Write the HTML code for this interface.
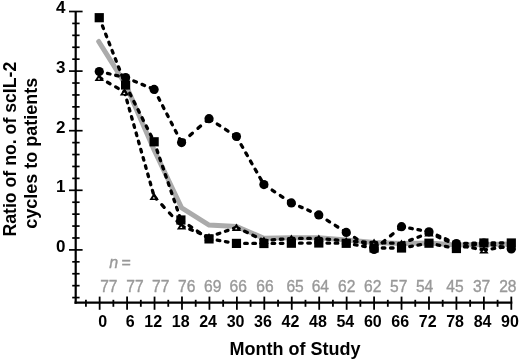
<!DOCTYPE html>
<html><head><meta charset="utf-8"><style>
html,body{margin:0;padding:0;background:#fff;}
body{width:520px;height:359px;overflow:hidden;}
svg{display:block;will-change:transform;}
text{font-family:"Liberation Sans",sans-serif;}
.b{font-weight:bold;fill:#000;}
.g{fill:#999;stroke:#999;stroke-width:0.35px;}
</style></head><body>
<svg width="520" height="359" viewBox="0 0 520 359">
<rect width="520" height="359" fill="#fff"/>
<line x1="75.7" y1="11.0" x2="75.7" y2="303.7" stroke="#000" stroke-width="2.2"/>
<line x1="74.5" y1="302.7" x2="512.3" y2="302.7" stroke="#000" stroke-width="2.2"/>
<line x1="69" y1="11.50" x2="82.6" y2="11.50" stroke="#000" stroke-width="1.7"/>
<line x1="72.2" y1="23.42" x2="79.6" y2="23.42" stroke="#000" stroke-width="1.7"/>
<line x1="72.2" y1="35.34" x2="79.6" y2="35.34" stroke="#000" stroke-width="1.7"/>
<line x1="72.2" y1="47.26" x2="79.6" y2="47.26" stroke="#000" stroke-width="1.7"/>
<line x1="72.2" y1="59.18" x2="79.6" y2="59.18" stroke="#000" stroke-width="1.7"/>
<line x1="69" y1="71.10" x2="82.6" y2="71.10" stroke="#000" stroke-width="1.7"/>
<line x1="72.2" y1="83.02" x2="79.6" y2="83.02" stroke="#000" stroke-width="1.7"/>
<line x1="72.2" y1="94.94" x2="79.6" y2="94.94" stroke="#000" stroke-width="1.7"/>
<line x1="72.2" y1="106.86" x2="79.6" y2="106.86" stroke="#000" stroke-width="1.7"/>
<line x1="72.2" y1="118.78" x2="79.6" y2="118.78" stroke="#000" stroke-width="1.7"/>
<line x1="69" y1="130.70" x2="82.6" y2="130.70" stroke="#000" stroke-width="1.7"/>
<line x1="72.2" y1="142.62" x2="79.6" y2="142.62" stroke="#000" stroke-width="1.7"/>
<line x1="72.2" y1="154.54" x2="79.6" y2="154.54" stroke="#000" stroke-width="1.7"/>
<line x1="72.2" y1="166.46" x2="79.6" y2="166.46" stroke="#000" stroke-width="1.7"/>
<line x1="72.2" y1="178.38" x2="79.6" y2="178.38" stroke="#000" stroke-width="1.7"/>
<line x1="69" y1="190.30" x2="82.6" y2="190.30" stroke="#000" stroke-width="1.7"/>
<line x1="72.2" y1="202.22" x2="79.6" y2="202.22" stroke="#000" stroke-width="1.7"/>
<line x1="72.2" y1="214.14" x2="79.6" y2="214.14" stroke="#000" stroke-width="1.7"/>
<line x1="72.2" y1="226.06" x2="79.6" y2="226.06" stroke="#000" stroke-width="1.7"/>
<line x1="72.2" y1="237.98" x2="79.6" y2="237.98" stroke="#000" stroke-width="1.7"/>
<line x1="69" y1="249.90" x2="82.6" y2="249.90" stroke="#000" stroke-width="1.7"/>
<line x1="72.2" y1="261.82" x2="79.6" y2="261.82" stroke="#000" stroke-width="1.7"/>
<line x1="72.2" y1="273.74" x2="79.6" y2="273.74" stroke="#000" stroke-width="1.7"/>
<line x1="72.2" y1="285.66" x2="79.6" y2="285.66" stroke="#000" stroke-width="1.7"/>
<line x1="72.2" y1="297.58" x2="79.6" y2="297.58" stroke="#000" stroke-width="1.7"/>
<line x1="85.93" y1="299.8" x2="85.93" y2="306.8" stroke="#000" stroke-width="1.8"/>
<line x1="99.65" y1="296.6" x2="99.65" y2="309.8" stroke="#000" stroke-width="1.8"/>
<line x1="113.37" y1="299.8" x2="113.37" y2="306.8" stroke="#000" stroke-width="1.8"/>
<line x1="127.09" y1="296.6" x2="127.09" y2="309.8" stroke="#000" stroke-width="1.8"/>
<line x1="140.82" y1="299.8" x2="140.82" y2="306.8" stroke="#000" stroke-width="1.8"/>
<line x1="154.54" y1="296.6" x2="154.54" y2="309.8" stroke="#000" stroke-width="1.8"/>
<line x1="168.26" y1="299.8" x2="168.26" y2="306.8" stroke="#000" stroke-width="1.8"/>
<line x1="181.98" y1="296.6" x2="181.98" y2="309.8" stroke="#000" stroke-width="1.8"/>
<line x1="195.70" y1="299.8" x2="195.70" y2="306.8" stroke="#000" stroke-width="1.8"/>
<line x1="209.43" y1="296.6" x2="209.43" y2="309.8" stroke="#000" stroke-width="1.8"/>
<line x1="223.15" y1="299.8" x2="223.15" y2="306.8" stroke="#000" stroke-width="1.8"/>
<line x1="236.87" y1="296.6" x2="236.87" y2="309.8" stroke="#000" stroke-width="1.8"/>
<line x1="250.59" y1="299.8" x2="250.59" y2="306.8" stroke="#000" stroke-width="1.8"/>
<line x1="264.31" y1="296.6" x2="264.31" y2="309.8" stroke="#000" stroke-width="1.8"/>
<line x1="278.04" y1="299.8" x2="278.04" y2="306.8" stroke="#000" stroke-width="1.8"/>
<line x1="291.76" y1="296.6" x2="291.76" y2="309.8" stroke="#000" stroke-width="1.8"/>
<line x1="305.48" y1="299.8" x2="305.48" y2="306.8" stroke="#000" stroke-width="1.8"/>
<line x1="319.20" y1="296.6" x2="319.20" y2="309.8" stroke="#000" stroke-width="1.8"/>
<line x1="332.92" y1="299.8" x2="332.92" y2="306.8" stroke="#000" stroke-width="1.8"/>
<line x1="346.65" y1="296.6" x2="346.65" y2="309.8" stroke="#000" stroke-width="1.8"/>
<line x1="360.37" y1="299.8" x2="360.37" y2="306.8" stroke="#000" stroke-width="1.8"/>
<line x1="374.09" y1="296.6" x2="374.09" y2="309.8" stroke="#000" stroke-width="1.8"/>
<line x1="387.81" y1="299.8" x2="387.81" y2="306.8" stroke="#000" stroke-width="1.8"/>
<line x1="401.53" y1="296.6" x2="401.53" y2="309.8" stroke="#000" stroke-width="1.8"/>
<line x1="415.26" y1="299.8" x2="415.26" y2="306.8" stroke="#000" stroke-width="1.8"/>
<line x1="428.98" y1="296.6" x2="428.98" y2="309.8" stroke="#000" stroke-width="1.8"/>
<line x1="442.70" y1="299.8" x2="442.70" y2="306.8" stroke="#000" stroke-width="1.8"/>
<line x1="456.42" y1="296.6" x2="456.42" y2="309.8" stroke="#000" stroke-width="1.8"/>
<line x1="470.14" y1="299.8" x2="470.14" y2="306.8" stroke="#000" stroke-width="1.8"/>
<line x1="483.87" y1="296.6" x2="483.87" y2="309.8" stroke="#000" stroke-width="1.8"/>
<line x1="497.59" y1="299.8" x2="497.59" y2="306.8" stroke="#000" stroke-width="1.8"/>
<line x1="511.31" y1="296.6" x2="511.31" y2="309.8" stroke="#000" stroke-width="1.8"/>
<polyline points="98.70,41.50 125.60,84.50 154.14,150.00 181.58,207.80 209.03,225.00 236.47,226.50 263.91,238.30 291.36,237.80 318.80,237.80 346.25,240.00 374.09,242.50 401.53,243.50 428.98,243.00 456.42,245.00 483.87,244.50 511.31,244.00" fill="none" stroke="#ababab" stroke-width="5" stroke-linejoin="miter" stroke-linecap="round"/>
<g stroke="#000" stroke-width="3.3" stroke-linecap="round" fill="none"><line x1="99.25" y1="77.50" x2="124.50" y2="92.00" stroke-dasharray="3.00 6.46"/><line x1="124.50" y1="92.00" x2="154.14" y2="196.50" stroke-dasharray="2.70 5.82"/><line x1="154.14" y1="196.50" x2="181.58" y2="226.00" stroke-dasharray="3.55 7.65"/><line x1="181.58" y1="226.00" x2="209.03" y2="237.00" stroke-dasharray="2.80 6.03"/><line x1="209.03" y1="237.00" x2="236.47" y2="227.40" stroke-dasharray="2.75 5.93"/><line x1="236.47" y1="227.40" x2="263.91" y2="240.50" stroke-dasharray="2.88 6.21"/><line x1="263.91" y1="240.50" x2="291.36" y2="238.40" stroke-dasharray="2.61 5.62"/><line x1="291.36" y1="238.40" x2="318.80" y2="238.40" stroke-dasharray="2.60 5.60"/><line x1="318.80" y1="238.40" x2="346.25" y2="241.00" stroke-dasharray="2.61 5.63"/><line x1="346.25" y1="241.00" x2="374.09" y2="242.50" stroke-dasharray="2.60 5.61"/><line x1="374.09" y1="242.50" x2="401.53" y2="243.50" stroke-dasharray="2.60 5.60"/><line x1="401.53" y1="243.50" x2="428.98" y2="233.00" stroke-dasharray="2.78 6.00"/><line x1="428.98" y1="233.00" x2="456.42" y2="245.00" stroke-dasharray="2.84 6.11"/><line x1="456.42" y1="245.00" x2="483.87" y2="250.00" stroke-dasharray="2.64 5.69"/><line x1="483.87" y1="250.00" x2="511.31" y2="246.00" stroke-dasharray="2.63 5.66"/></g>
<g stroke="#000" stroke-width="3.3" stroke-linecap="round" fill="none"><line x1="99.25" y1="17.70" x2="125.60" y2="85.00" stroke-dasharray="2.79 6.01"/><line x1="125.60" y1="85.00" x2="154.14" y2="141.80" stroke-dasharray="2.91 6.27"/><line x1="154.14" y1="141.80" x2="180.90" y2="220.00" stroke-dasharray="2.75 5.92"/><line x1="180.90" y1="220.00" x2="209.03" y2="238.90" stroke-dasharray="3.13 6.75"/><line x1="209.03" y1="238.90" x2="236.47" y2="243.40" stroke-dasharray="2.63 5.67"/><line x1="236.47" y1="243.40" x2="263.91" y2="243.50" stroke-dasharray="2.60 5.60"/><line x1="263.91" y1="243.50" x2="291.36" y2="243.20" stroke-dasharray="2.60 5.60"/><line x1="291.36" y1="243.20" x2="318.80" y2="243.00" stroke-dasharray="2.60 5.60"/><line x1="318.80" y1="243.00" x2="346.25" y2="243.30" stroke-dasharray="2.60 5.60"/><line x1="346.25" y1="243.30" x2="374.09" y2="248.00" stroke-dasharray="2.64 5.68"/><line x1="374.09" y1="248.00" x2="401.53" y2="248.00" stroke-dasharray="2.60 5.60"/><line x1="401.53" y1="248.00" x2="428.98" y2="243.20" stroke-dasharray="2.64 5.69"/><line x1="428.98" y1="243.20" x2="456.42" y2="248.50" stroke-dasharray="2.65 5.70"/><line x1="456.42" y1="248.50" x2="483.87" y2="243.00" stroke-dasharray="2.65 5.71"/><line x1="483.87" y1="243.00" x2="511.31" y2="243.00" stroke-dasharray="2.60 5.60"/></g>
<g stroke="#000" stroke-width="3.3" stroke-linecap="round" fill="none"><line x1="99.25" y1="71.50" x2="125.60" y2="77.60" stroke-dasharray="2.67 5.75"/><line x1="125.60" y1="77.60" x2="154.14" y2="89.40" stroke-dasharray="2.81 6.06"/><line x1="154.14" y1="89.40" x2="181.58" y2="142.60" stroke-dasharray="2.93 6.30"/><line x1="181.58" y1="142.60" x2="209.03" y2="118.70" stroke-dasharray="3.45 7.43"/><line x1="209.03" y1="118.70" x2="236.47" y2="136.50" stroke-dasharray="3.10 6.67"/><line x1="236.47" y1="136.50" x2="263.91" y2="184.60" stroke-dasharray="2.99 6.45"/><line x1="263.91" y1="184.60" x2="291.36" y2="202.90" stroke-dasharray="3.13 6.73"/><line x1="291.36" y1="202.90" x2="318.80" y2="214.90" stroke-dasharray="2.84 6.11"/><line x1="318.80" y1="214.90" x2="346.25" y2="232.40" stroke-dasharray="3.08 6.64"/><line x1="346.25" y1="232.40" x2="374.09" y2="249.50" stroke-dasharray="3.05 6.57"/><line x1="374.09" y1="249.50" x2="401.53" y2="226.70" stroke-dasharray="3.38 7.28"/><line x1="401.53" y1="226.70" x2="428.98" y2="231.80" stroke-dasharray="2.64 5.70"/><line x1="428.98" y1="231.80" x2="456.42" y2="243.50" stroke-dasharray="2.83 6.09"/><line x1="456.42" y1="243.50" x2="483.87" y2="243.00" stroke-dasharray="2.60 5.60"/><line x1="483.87" y1="243.00" x2="511.31" y2="249.00" stroke-dasharray="2.66 5.73"/></g>
<path d="M99.25,73.60 L103.95,81.10 L94.55,81.10Z" fill="#000"/><path d="M98.95,77.70 L100.15,79.40 L97.75,79.40Z" fill="#fff"/>
<path d="M124.50,88.10 L129.20,95.60 L119.80,95.60Z" fill="#000"/><path d="M124.20,92.20 L125.40,93.90 L123.00,93.90Z" fill="#fff"/>
<path d="M154.14,192.60 L158.84,200.10 L149.44,200.10Z" fill="#000"/><path d="M153.84,196.70 L155.04,198.40 L152.64,198.40Z" fill="#fff"/>
<path d="M181.58,222.10 L186.28,229.60 L176.88,229.60Z" fill="#000"/><path d="M181.28,226.20 L182.48,227.90 L180.08,227.90Z" fill="#fff"/>
<path d="M209.03,233.10 L213.73,240.60 L204.33,240.60Z" fill="#000"/><path d="M208.73,237.20 L209.93,238.90 L207.53,238.90Z" fill="#fff"/>
<path d="M236.47,223.50 L241.17,231.00 L231.77,231.00Z" fill="#000"/><path d="M236.17,227.60 L237.37,229.30 L234.97,229.30Z" fill="#fff"/>
<path d="M263.91,236.60 L268.61,244.10 L259.21,244.10Z" fill="#000"/><path d="M263.61,240.70 L264.81,242.40 L262.41,242.40Z" fill="#fff"/>
<path d="M291.36,234.50 L296.06,242.00 L286.66,242.00Z" fill="#000"/><path d="M291.06,238.60 L292.26,240.30 L289.86,240.30Z" fill="#fff"/>
<path d="M318.80,234.50 L323.50,242.00 L314.10,242.00Z" fill="#000"/><path d="M318.50,238.60 L319.70,240.30 L317.30,240.30Z" fill="#fff"/>
<path d="M346.25,237.10 L350.95,244.60 L341.55,244.60Z" fill="#000"/><path d="M345.95,241.20 L347.15,242.90 L344.75,242.90Z" fill="#fff"/>
<path d="M374.09,238.60 L378.79,246.10 L369.39,246.10Z" fill="#000"/><path d="M373.79,242.70 L374.99,244.40 L372.59,244.40Z" fill="#fff"/>
<path d="M401.53,239.60 L406.23,247.10 L396.83,247.10Z" fill="#000"/><path d="M401.23,243.70 L402.43,245.40 L400.03,245.40Z" fill="#fff"/>
<path d="M428.98,229.10 L433.68,236.60 L424.28,236.60Z" fill="#000"/><path d="M428.68,233.20 L429.88,234.90 L427.48,234.90Z" fill="#fff"/>
<path d="M456.42,241.10 L461.12,248.60 L451.72,248.60Z" fill="#000"/><path d="M456.12,245.20 L457.32,246.90 L454.92,246.90Z" fill="#fff"/>
<path d="M483.87,246.10 L488.57,253.60 L479.17,253.60Z" fill="#000"/><path d="M483.57,250.20 L484.77,251.90 L482.37,251.90Z" fill="#fff"/>
<path d="M511.31,242.10 L516.01,249.60 L506.61,249.60Z" fill="#000"/><path d="M511.01,246.20 L512.21,247.90 L509.81,247.90Z" fill="#fff"/>
<rect x="94.65" y="13.10" width="9.2" height="9.2" fill="#000"/>
<rect x="121.00" y="80.40" width="9.2" height="9.2" fill="#000"/>
<rect x="149.54" y="137.20" width="9.2" height="9.2" fill="#000"/>
<rect x="176.30" y="215.40" width="9.2" height="9.2" fill="#000"/>
<rect x="204.43" y="234.30" width="9.2" height="9.2" fill="#000"/>
<rect x="231.87" y="238.80" width="9.2" height="9.2" fill="#000"/>
<rect x="259.31" y="238.90" width="9.2" height="9.2" fill="#000"/>
<rect x="286.76" y="238.60" width="9.2" height="9.2" fill="#000"/>
<rect x="314.20" y="238.40" width="9.2" height="9.2" fill="#000"/>
<rect x="341.65" y="238.70" width="9.2" height="9.2" fill="#000"/>
<rect x="369.49" y="243.40" width="9.2" height="9.2" fill="#000"/>
<rect x="396.93" y="243.40" width="9.2" height="9.2" fill="#000"/>
<rect x="424.38" y="238.60" width="9.2" height="9.2" fill="#000"/>
<rect x="451.82" y="243.90" width="9.2" height="9.2" fill="#000"/>
<rect x="479.27" y="238.40" width="9.2" height="9.2" fill="#000"/>
<rect x="506.71" y="238.40" width="9.2" height="9.2" fill="#000"/>
<circle cx="99.25" cy="71.50" r="4.6" fill="#000"/>
<circle cx="125.60" cy="77.60" r="4.6" fill="#000"/>
<circle cx="154.14" cy="89.40" r="4.6" fill="#000"/>
<circle cx="181.58" cy="142.60" r="4.6" fill="#000"/>
<circle cx="209.03" cy="118.70" r="4.6" fill="#000"/>
<circle cx="236.47" cy="136.50" r="4.6" fill="#000"/>
<circle cx="263.91" cy="184.60" r="4.6" fill="#000"/>
<circle cx="291.36" cy="202.90" r="4.6" fill="#000"/>
<circle cx="318.80" cy="214.90" r="4.6" fill="#000"/>
<circle cx="346.25" cy="232.40" r="4.6" fill="#000"/>
<circle cx="374.09" cy="249.50" r="4.6" fill="#000"/>
<circle cx="401.53" cy="226.70" r="4.6" fill="#000"/>
<circle cx="428.98" cy="231.80" r="4.6" fill="#000"/>
<circle cx="456.42" cy="243.50" r="4.6" fill="#000"/>
<circle cx="483.87" cy="243.00" r="4.6" fill="#000"/>
<circle cx="511.31" cy="249.00" r="4.6" fill="#000"/>
<text x="65.4" y="251.80" text-anchor="end" class="b" font-size="17">0</text>
<text x="65.4" y="192.20" text-anchor="end" class="b" font-size="17">1</text>
<text x="65.4" y="132.60" text-anchor="end" class="b" font-size="17">2</text>
<text x="65.4" y="73.00" text-anchor="end" class="b" font-size="17">3</text>
<text x="65.4" y="13.40" text-anchor="end" class="b" font-size="17">4</text>
<text x="107.25" y="327.2" text-anchor="end" class="b" font-size="16">0</text>
<text x="134.69" y="327.2" text-anchor="end" class="b" font-size="16">6</text>
<text x="162.14" y="327.2" text-anchor="end" class="b" font-size="16">12</text>
<text x="189.58" y="327.2" text-anchor="end" class="b" font-size="16">18</text>
<text x="217.03" y="327.2" text-anchor="end" class="b" font-size="16">24</text>
<text x="244.47" y="327.2" text-anchor="end" class="b" font-size="16">30</text>
<text x="271.91" y="327.2" text-anchor="end" class="b" font-size="16">36</text>
<text x="299.36" y="327.2" text-anchor="end" class="b" font-size="16">42</text>
<text x="326.80" y="327.2" text-anchor="end" class="b" font-size="16">48</text>
<text x="354.25" y="327.2" text-anchor="end" class="b" font-size="16">54</text>
<text x="381.69" y="327.2" text-anchor="end" class="b" font-size="16">60</text>
<text x="409.13" y="327.2" text-anchor="end" class="b" font-size="16">66</text>
<text x="436.58" y="327.2" text-anchor="end" class="b" font-size="16">72</text>
<text x="464.02" y="327.2" text-anchor="end" class="b" font-size="16">78</text>
<text x="491.47" y="327.2" text-anchor="end" class="b" font-size="16">84</text>
<text x="518.91" y="327.2" text-anchor="end" class="b" font-size="16">90</text>
<text x="100.20" y="292.1" class="g" font-size="15.6">77</text>
<text x="126.30" y="292.1" class="g" font-size="15.6">77</text>
<text x="152.10" y="292.1" class="g" font-size="15.6">77</text>
<text x="178.00" y="292.1" class="g" font-size="15.6">76</text>
<text x="204.00" y="292.1" class="g" font-size="15.6">69</text>
<text x="229.60" y="292.1" class="g" font-size="15.6">66</text>
<text x="256.30" y="292.1" class="g" font-size="15.6">66</text>
<text x="286.40" y="292.1" class="g" font-size="15.6">65</text>
<text x="311.70" y="292.1" class="g" font-size="15.6">64</text>
<text x="338.10" y="292.1" class="g" font-size="15.6">62</text>
<text x="364.00" y="292.1" class="g" font-size="15.6">62</text>
<text x="390.00" y="292.1" class="g" font-size="15.6">57</text>
<text x="415.90" y="292.1" class="g" font-size="15.6">54</text>
<text x="446.30" y="292.1" class="g" font-size="15.6">45</text>
<text x="472.90" y="292.1" class="g" font-size="15.6">37</text>
<text x="499.20" y="292.1" class="g" font-size="15.6">28</text>
<text x="109.3" y="268.3" class="g" font-size="16" font-style="italic">n</text><text x="121.6" y="268.3" class="g" font-size="16">=</text>
<text x="229.5" y="354.5" class="b" font-size="18">Month of Study</text>
<text transform="translate(15.6,236.6) rotate(-90)" class="b" font-size="17.7">Ratio of no. of scIL-2</text>
<text transform="translate(37.0,228.8) rotate(-90)" class="b" font-size="18">cycles to patients</text>
</svg>
</body></html>
